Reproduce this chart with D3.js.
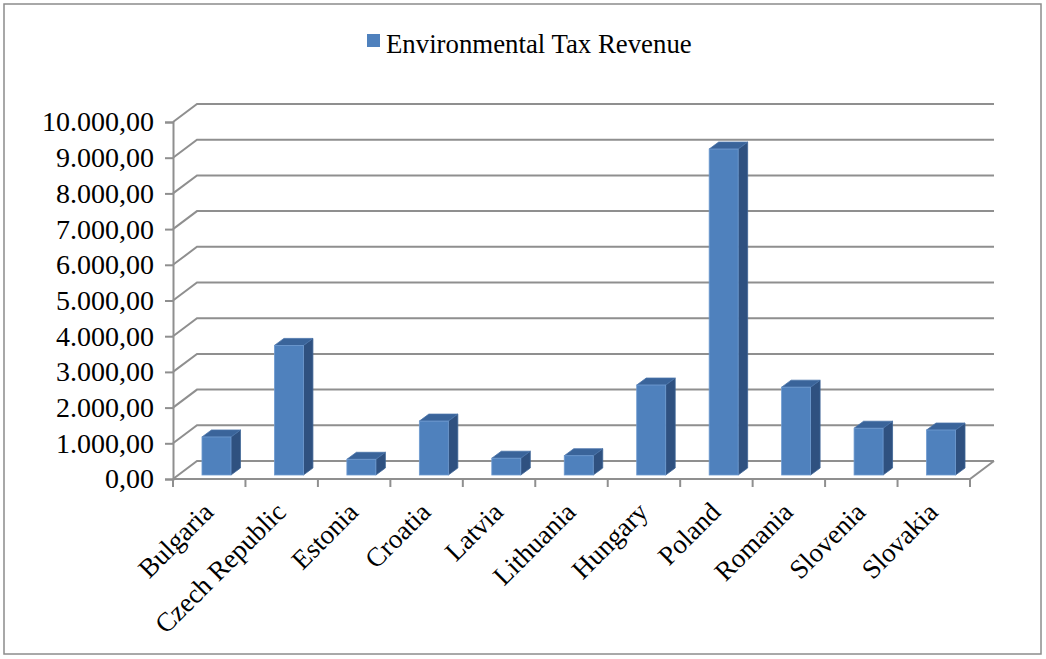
<!DOCTYPE html>
<html>
<head>
<meta charset="utf-8">
<script src="https://cdn.jsdelivr.net/npm/d3@7"></script>
<style>
  html, body { margin: 0; padding: 0; background: #fff; }
  svg { display: block; }
  text { font-family: "Liberation Serif", "Times New Roman", serif; fill: #000; }
</style>
</head>
<body>
<svg id="chart" width="1046" height="659"></svg>
<script>
const categories = ["Bulgaria", "Czech Republic", "Estonia", "Croatia", "Latvia", "Lithuania", "Hungary", "Poland", "Romania", "Slovenia", "Slovakia"];
const values = [1065, 3630, 440, 1510, 470, 540, 2520, 9130, 2460, 1310, 1260];
const seriesName = "Environmental Tax Revenue";
const yTicks = [0, 1000, 2000, 3000, 4000, 5000, 6000, 7000, 8000, 9000, 10000];

const svg = d3.select("#chart");
const W = 1046, H = 659;

// outer border
svg.append("rect").attr("x", 4).attr("y", 4).attr("width", W - 9).attr("height", H - 9)
  .attr("fill", "#fff").attr("stroke", "#8c8c8c").attr("stroke-width", 1.5);

const x = d3.scaleBand().domain(categories).range([173, 970]).padding(0);
const y = d3.scaleLinear().domain([0, 10000]).range([479, 122]);
const DX = 24, DY = -18; // wall depth
const gridColor = "#8f8f8f";

const loc = d3.formatLocale({ decimal: ",", thousands: ".", grouping: [3], currency: ["", ""] });
const fmt = loc.format(",.2f");

// gridlines on side & back walls
const grid = svg.append("g").attr("fill", "none").attr("stroke", gridColor).attr("stroke-width", 2);
yTicks.forEach(t => {
  const yy = y(t);
  grid.append("path").attr("d", `M${x.range()[0]},${yy} L${x.range()[0] + DX},${yy + DY} L${x.range()[1] + DX},${yy + DY}`);
});
// floor
grid.append("path").attr("d", `M${x.range()[0]},${y(0)} L${x.range()[1]},${y(0)} L${x.range()[1] + DX},${y(0) + DY}`);

// y axis
const yAxis = d3.axisLeft(y).tickValues(yTicks).tickFormat(fmt).tickSize(8).tickPadding(11);
const gy = svg.append("g").attr("transform", `translate(${x.range()[0]},0)`).call(yAxis);
gy.selectAll("path, line").attr("stroke", gridColor).attr("stroke-width", 2);
gy.selectAll("text").style("font-family", '"Liberation Serif", serif').style("font-size", "28px").attr("fill", "#000");

// x axis ticks at band boundaries
const gx = svg.append("g");
const bounds = categories.map(c => x(c)).concat([x.range()[1]]);
gx.selectAll("line").data(bounds).join("line")
  .attr("x1", d => d).attr("x2", d => d).attr("y1", y(0)).attr("y2", y(0) + 8)
  .attr("stroke", gridColor).attr("stroke-width", 2);

// category labels
gx.selectAll("text").data(categories).join("text")
  .attr("transform", d => `translate(${x(d) + x.bandwidth() / 2 - 1},${y(0) + 28}) rotate(-45)`)
  .attr("text-anchor", "end")
  .attr("dy", "0.35em")
  .style("font-size", "27px")
  .text(d => d);

// 3D bars
const bw = x.bandwidth();
const barW = bw * 0.4;
const bdx = 9.5, bdy = -7;
const baseShiftX = 0, baseShiftY = -4;
const bars = svg.append("g");
categories.forEach((c, i) => {
  const x0 = x(c) + bw * 0.4 + baseShiftX;
  const x1 = x0 + barW;
  const yb = y(0) + baseShiftY;
  const yt = y(values[i]) + baseShiftY;
  const g = bars.append("g");
  // side face
  g.append("path").attr("d", `M${x1},${yb} L${x1 + bdx},${yb + bdy} L${x1 + bdx},${yt + bdy} L${x1},${yt} Z`)
    .attr("fill", "#2f5180").attr("stroke", "#3d6496").attr("stroke-width", 0.8);
  // top face
  g.append("path").attr("d", `M${x0},${yt} L${x0 + bdx},${yt + bdy} L${x1 + bdx},${yt + bdy} L${x1},${yt} Z`)
    .attr("fill", "#3a649a").attr("stroke", "#4a74aa").attr("stroke-width", 0.8);
  // front face
  g.append("rect").attr("x", x0).attr("y", yt).attr("width", barW).attr("height", yb - yt)
    .attr("fill", "#4f81bd").attr("stroke", "#6f9bd0").attr("stroke-width", 0.8);
});

// legend
const lg = svg.append("g");
lg.append("rect").attr("x", 367).attr("y", 34).attr("width", 13).attr("height", 13).attr("fill", "#4f81bd");
lg.append("text").attr("x", 386).attr("y", 53).style("font-size", "26.8px").text(seriesName);
</script>
</body>
</html>
